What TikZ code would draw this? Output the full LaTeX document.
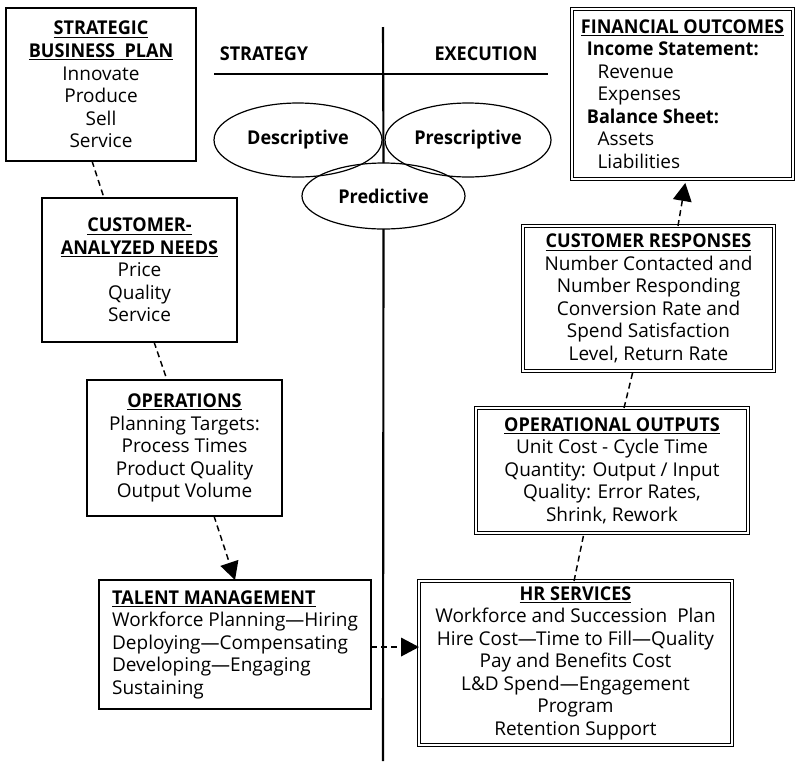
\documentclass[tikz,border=0pt]{standalone}
\usepackage{fontspec}
\setmainfont{Open Sans}[BoldFeatures={FakeStretch=0.95}]
\usetikzlibrary{arrows.meta,shapes.geometric}
\begin{document}
\begin{tikzpicture}[x=0.75pt,y=-0.75pt,
  txt/.style={font=\fontsize{14.25}{16.9}\selectfont},
  every node/.style={txt, inner sep=0pt, outer sep=0pt},
  box/.style={draw, line width=1pt, rectangle, align=center},
  dbox/.style={draw, double, double distance=2pt, line width=0.75pt, rectangle, align=center},
  oval/.style={draw, ellipse, line width=0.9pt, font=\fontsize{14.25}{16.9}\selectfont\bfseries},
  link/.style={dash pattern=on 4.5pt off 3pt, line width=1.1pt},
  arr/.style={link, -{Triangle[length=13.5pt,width=14pt]}},
  axis/.style={line width=1.6pt}
]
\useasboundingbox (0,0) rectangle (798,761);

% axes
\coordinate (axtop) at (383,27);
\coordinate (axbot) at (383,761);
\coordinate (hlft) at (214,74);
\coordinate (hrgt) at (548,74);
\node[font=\fontsize{14.25}{16.9}\selectfont\bfseries] (strat) at (264,54) {STRATEGY};
\node[font=\fontsize{14.25}{16.9}\selectfont\bfseries] (exec) at (486,54) {EXECUTION};

% ellipses
\node[oval, minimum width=126pt, minimum height=55.5pt] (desc) at (298,140) {Descriptive};
\node[oval, minimum width=124.5pt, minimum height=55.5pt] (presc) at (468,140) {Prescriptive};
\node[oval, minimum width=122.25pt, minimum height=49.5pt] (pred) at (383.5,196) {Predictive};

\draw[axis] (hlft) -- (hrgt);
\draw[axis] (axtop) -- (pred.north);
\draw[axis] (pred.south) -- (axbot);

% left boxes
\node[box, minimum width=142.5pt, minimum height=114.75pt] (b1) at (101,84.5)
  {\underline{\textbf{STRATEGIC}}\\\underline{\textbf{BUSINESS\ \ PLAN}}\\Innovate\\Produce\\Sell\\Service};
\node[box, minimum width=146.25pt, minimum height=108pt] (b2) at (139.5,270)
  {\underline{\textbf{CUSTOMER-}}\\\underline{\textbf{ANALYZED NEEDS}}\\Price\\Quality\\Service};
\node[box, minimum width=146.25pt, minimum height=102pt] (b3) at (184.5,448)
  {\underline{\textbf{OPERATIONS}}\\Planning Targets:\\Process Times\\Product Quality\\Output Volume};
\node[box, align=left, minimum width=204pt, minimum height=96.75pt] (b4) at (235,644.5)
  {\underline{\textbf{TALENT MANAGEMENT}}\\Workforce Planning—Hiring\\Deploying—Compensating\\Developing—Engaging\\Sustaining};

% right boxes
\node[dbox, align=left, minimum width=165.75pt, minimum height=127.5pt] (fin) at (682.5,94)
  {\underline{\textbf{FINANCIAL OUTCOMES}}\\
   \hspace*{4.5pt}\textbf{Income Statement:}\\
   \hspace*{12.5pt}Revenue\\
   \hspace*{12.5pt}Expenses\\
   \hspace*{4.5pt}\textbf{Balance Sheet:}\\
   \hspace*{12.5pt}Assets\\
   \hspace*{12.5pt}Liabilities};
\node[dbox, minimum width=188.25pt, minimum height=108.75pt] (cr) at (648.5,298.5)
  {\underline{\textbf{CUSTOMER RESPONSES}}\\Number Contacted and\\Number Responding\\Conversion Rate and\\Spend Satisfaction\\Level, Return Rate};
\node[dbox, minimum width=204pt, minimum height=93.75pt] (oo) at (612,470.5)
  {\underline{\textbf{OPERATIONAL OUTPUTS}}\\Unit Cost - Cycle Time\\Quantity: Output / Input\\Quality: Error Rates,\\Shrink, Rework};
\node[dbox, minimum width=234.75pt, minimum height=123pt] (hr) at (575.5,663)
  {\underline{\textbf{HR SERVICES}}\\Workforce and Succession\ \ Plan\\Hire Cost—Time to Fill—Quality\\Pay and Benefits Cost\\L\&D Spend—Engagement\\Program\\Retention Support};

% connectors
\draw[link] ([xshift=-6.75pt]b1.south) -- ([xshift=-26.6pt]b2.north);
\draw[link] ([xshift=10.9pt]b2.south) -- ([xshift=-13.1pt]b3.north);
\draw[arr] ([xshift=22.1pt]b3.south) -- (b4.north);
\draw[arr] ([yshift=-1.9pt]b4.east) -- ([yshift=-1.9pt]b4.east -| hr.west);
\draw[link] ([xshift=-1.1pt]hr.north) -- ([xshift=-21pt]oo.south);
\draw[link] ([xshift=9pt]oo.north) -- ([xshift=-11.6pt]cr.south);
\draw[arr, shorten >=3pt] ([xshift=22.1pt]cr.north) -- ([xshift=2.6pt]fin.south);
\end{tikzpicture}
\end{document}
